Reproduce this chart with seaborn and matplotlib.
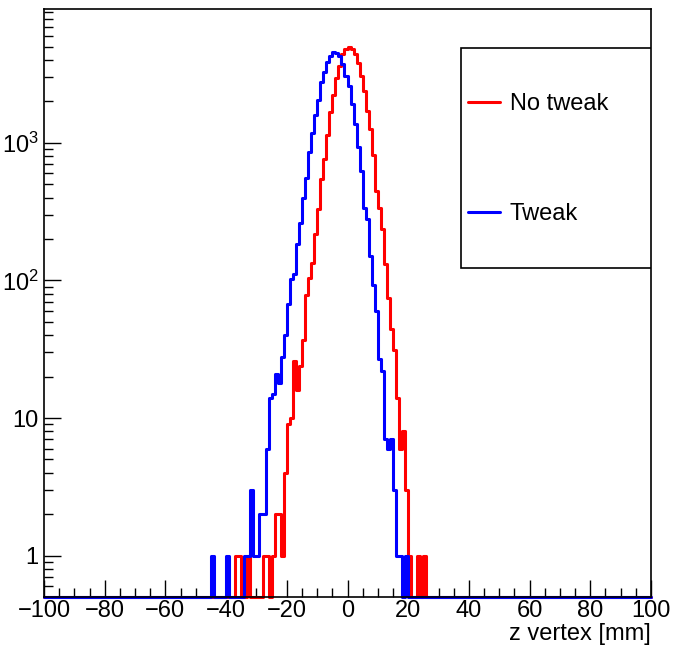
import numpy as np
import pandas as pd
import matplotlib
matplotlib.use("Agg")
import matplotlib.pyplot as plt
from matplotlib.patches import Rectangle
from matplotlib.lines import Line2D
import seaborn as sns

# ---- data (1 mm bins from -100 to 100 mm) ----
x_min, x_max, bin_width = -100, 100, 1

no_tweak_first_bin = -37
no_tweak_counts = [1, 1, 0, 0, 1, 0, 0, 0, 0, 1, 1, 0, 1, 2, 2, 1, 4, 9, 10, 26,
                   16, 24, 37, 79, 105, 135, 216, 328, 550, 760, 1134, 1675, 2215,
                   2980, 3620, 4425, 4790, 4950, 4790, 4400, 3830, 3060, 2385, 1700,
                   1255, 811, 447, 338, 235, 131, 75, 44, 31, 14, 6, 8, 3, 1, 0, 0,
                   1, 0, 1]

tweak_first_bin = -45
tweak_counts = [1, 0, 0, 0, 0, 1, 0, 0, 0, 0, 0, 1, 1, 3, 1, 1, 2, 2, 6, 14, 15,
                21, 18, 28, 40, 67, 103, 111, 183, 263, 399, 558, 857, 1186, 1585,
                2037, 2768, 3272, 3871, 4283, 4585, 4480, 4283, 3725, 3060, 2590,
                1905, 1364, 932, 624, 338, 278, 150, 92, 60, 27, 22, 7, 6, 7, 3, 1,
                1, 0, 1]

series_names = ["No tweak", "Tweak"]
series_colors = {"No tweak": "#ff0000", "Tweak": "#0000ff"}

y_ticks = [1, 10, 100, 1000]
y_tick_labels = ["1", "10", "10$^{2}$", "10$^{3}$"]
x_ticks = list(range(-100, 101, 20))
x_label = "z vertex [mm]"

# ---- build histogram table ----
edges = np.arange(x_min, x_max + bin_width, bin_width)
y_floor = 0.5
y_top = 9400


def full_hist(first_bin, counts):
    h = np.zeros(len(edges) - 1)
    i0 = int((first_bin - x_min) / bin_width)
    h[i0:i0 + len(counts)] = counts
    return h


rows = []
for name, first, cnts in [("No tweak", no_tweak_first_bin, no_tweak_counts),
                          ("Tweak", tweak_first_bin, tweak_counts)]:
    h = full_hist(first, cnts)
    yv = np.append(h, h[-1])
    yv = np.where(yv > 0, yv, y_floor)  # empty bins sit on the axis floor (log scale)
    for xe, ye in zip(edges, yv):
        rows.append({"z": xe, "count": ye, "series": name})
df = pd.DataFrame(rows)

# ---- style ----
sns.set_style("ticks")
plt.rcParams["font.family"] = ["Liberation Sans", "DejaVu Sans"]
plt.rcParams["mathtext.fontset"] = "custom"
plt.rcParams["mathtext.rm"] = "Liberation Sans"
plt.rcParams["mathtext.it"] = "Liberation Sans"
plt.rcParams["text.color"] = "black"
plt.rcParams["axes.labelcolor"] = "black"
plt.rcParams["xtick.color"] = "black"
plt.rcParams["ytick.color"] = "black"

fig = plt.figure(figsize=(6.74, 6.5), dpi=100)
ax = fig.add_axes([44 / 674, 1 - 597 / 650, (651 - 44) / 674, (597 - 9) / 650])

sns.lineplot(data=df, x="z", y="count", hue="series", hue_order=series_names,
             palette=series_colors, drawstyle="steps-post", estimator=None,
             sort=False, linewidth=2.2, legend=False, ax=ax, clip_on=False)

ax.set_yscale("log")
ax.set_xlim(x_min, x_max)
ax.set_ylim(y_floor, y_top)

ax.set_xticks(x_ticks)
ax.xaxis.set_minor_locator(matplotlib.ticker.MultipleLocator(5))
ax.set_yticks(y_ticks)
ax.set_yticklabels(y_tick_labels)
ax.yaxis.set_minor_locator(matplotlib.ticker.LogLocator(base=10, subs=np.arange(2, 10)))
ax.yaxis.set_minor_formatter(matplotlib.ticker.NullFormatter())

ax.tick_params(axis="both", which="both", direction="in", top=False, right=False,
               colors="black", width=1.0, labelsize=17)
ax.tick_params(axis="both", which="major", length=12.5)
ax.tick_params(axis="both", which="minor", length=6.5)
ax.tick_params(axis="x", which="major", pad=2)
ax.tick_params(axis="y", which="major", pad=4)

for s in ax.spines.values():
    s.set_linewidth(1.2)
    s.set_color("black")
    s.set_visible(True)

ax.set_xlabel(x_label, loc="right", fontsize=17, labelpad=1, color="black")
ax.set_ylabel("")

# ---- legend box ----
box = Rectangle((0.687, 0.560), 0.313, 0.374, transform=ax.transAxes,
                facecolor="white", edgecolor="black", linewidth=1.2, zorder=5)
ax.add_patch(box)
handles = [Line2D([], [], color=series_colors[n], linewidth=2.2) for n in series_names]
leg = ax.legend(handles, series_names, loc="upper left",
                bbox_to_anchor=(0.6985, 0.857), frameon=False, fontsize=17,
                handlelength=1.36, handletextpad=0.4, borderpad=0,
                borderaxespad=0, labelspacing=3.72, labelcolor="black")
leg.set_zorder(6)

fig.savefig("out.png", dpi=100, facecolor="white")
